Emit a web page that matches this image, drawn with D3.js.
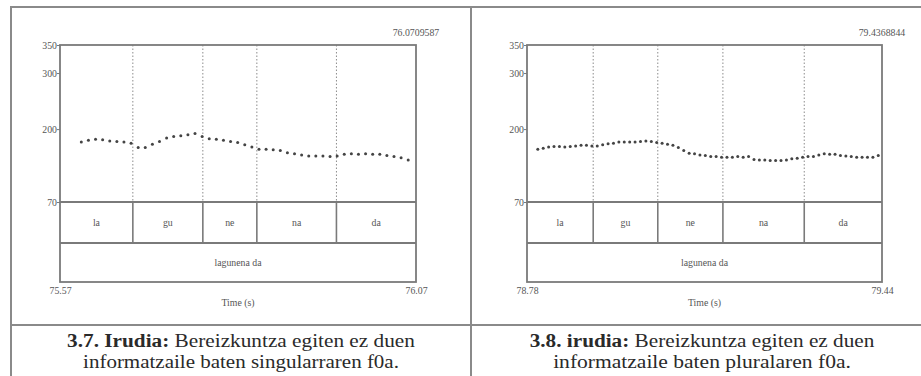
<!DOCTYPE html>
<html>
<head>
<meta charset="utf-8">
<script src="https://cdn.jsdelivr.net/npm/d3@7"></script>
<style>
  html, body { margin: 0; padding: 0; background: #fff; }
  svg { display: block; }
</style>
</head>
<body>
<svg id="chart" width="921" height="376"></svg>
<script>
// ---- data -------------------------------------------------------------
const f0Ticks = [70, 200, 300, 350];
const f0Range = [70, 350];

// Figure 3.7 — singular
const singTimeRange = [75.57, 76.0709587];
const singTimeLabels = ["75.57", "76.07"];
const singEndLabel = "76.0709587";
const singTimes = [75.60, 75.61, 75.62, 75.63, 75.64, 75.65, 75.66, 75.67, 75.68, 75.69,
                   75.70, 75.71, 75.72, 75.73, 75.74, 75.75, 75.76, 75.77, 75.78, 75.79,
                   75.80, 75.81, 75.82, 75.83, 75.84, 75.85, 75.86, 75.87, 75.88, 75.89,
                   75.90, 75.91, 75.92, 75.93, 75.94, 75.95, 75.96, 75.97, 75.98, 75.99,
                   76.00, 76.01, 76.02, 76.03, 76.04, 76.05, 76.06];
const singF0 = [177, 180, 182, 181, 179, 178, 177, 175, 167, 167,
                173, 178, 184, 187, 188, 190, 192, 187, 183, 182,
                180, 178, 176, 172, 168, 164, 164, 163, 162, 158,
                156, 154, 152, 152, 152, 151, 152, 155, 156, 155,
                156, 155, 155, 153, 151, 149, 145];
const singBounds = [75.6725, 75.771, 75.847, 75.959];
const singSyllables = ["la", "gu", "ne", "na", "da"];
const singPhrase = "lagunena da";

// Figure 3.8 — plural
const plurTimeRange = [78.78, 79.4368844];
const plurTimeLabels = ["78.78", "79.44"];
const plurEndLabel = "79.4368844";
const plurTimes = [78.80, 78.81, 78.82, 78.83, 78.84, 78.85, 78.86, 78.87, 78.88, 78.89,
                   78.90, 78.91, 78.92, 78.93, 78.94, 78.95, 78.96, 78.97, 78.98, 78.99,
                   79.00, 79.01, 79.02, 79.03, 79.04, 79.05, 79.06, 79.07, 79.08, 79.09,
                   79.10, 79.11, 79.12, 79.13, 79.14, 79.15, 79.16, 79.17, 79.18, 79.19,
                   79.20, 79.21, 79.22, 79.23, 79.24, 79.25, 79.26, 79.27, 79.28, 79.29,
                   79.30, 79.31, 79.32, 79.33, 79.34, 79.35, 79.36, 79.37, 79.38, 79.39,
                   79.40, 79.41, 79.42, 79.43];
const plurF0 = [164, 166, 168, 169, 169, 168, 169, 170, 171, 171,
                170, 170, 172, 174, 175, 177, 177, 177, 177, 178,
                179, 178, 176, 175, 173, 171, 167, 162, 157, 156,
                154, 153, 151, 151, 150, 150, 150, 151, 150, 151,
                146, 145, 145, 144, 144, 144, 145, 147, 148, 150,
                151, 151, 154, 156, 155, 155, 153, 152, 151, 150,
                150, 150, 150, 153];
const plurBounds = [78.9025, 79.022, 79.1425, 79.293];
const plurSyllables = ["la", "gu", "ne", "na", "da"];
const plurPhrase = "lagunena da";

const captionBold = ["3.7. Irudia:", "3.8. irudia:"];
const captionRest = ["Bereizkuntza egiten ez duen", "Bereizkuntza egiten ez duen"];
const captionLine2 = ["informatzaile baten singularraren f0a.", "informatzaile baten pluralaren f0a."];

// ---- drawing ----------------------------------------------------------
const svg = d3.select("#chart");
svg.append("rect").attr("width", 921).attr("height", 376).attr("fill", "#fff");

const frameColor = "#7a7a7a";
const serif = "'Liberation Serif', 'Times New Roman', Times, serif";
const smallColor = "#555";
const smallSize = 9.8;

// table lines around the two figures
const table = svg.append("g").attr("stroke", "#8a8a8a").attr("stroke-width", 2);
table.append("line").attr("x1", 10).attr("x2", 921).attr("y1", 7).attr("y2", 7);
table.append("line").attr("x1", 11).attr("x2", 11).attr("y1", 6).attr("y2", 376);
table.append("line").attr("x1", 471).attr("x2", 471).attr("y1", 6).attr("y2", 376);
table.append("line").attr("x1", 10).attr("x2", 921).attr("y1", 325).attr("y2", 325);

function smallText(sel) {
  return sel.attr("font-family", serif).attr("font-size", smallSize).attr("fill", smallColor);
}

function drawPanel(cfg) {
  const g = svg.append("g");
  const x = d3.scaleLinear().domain(cfg.timeRange).range([cfg.left, cfg.right]);
  const y = d3.scaleLinear().domain(f0Range).range([202, 45]);
  const tier1Bottom = 243, tier2Bottom = 282;

  // pitch axis with ticks to the left
  const yAxis = d3.axisLeft(y).tickValues(f0Ticks).tickSize(3).tickFormat(d3.format("d"));
  const ay = g.append("g").attr("transform", `translate(${cfg.left},0)`).call(yAxis);
  ay.select(".domain").remove();
  ay.selectAll(".tick line").attr("stroke", frameColor).attr("stroke-width", 1);
  smallText(ay.selectAll(".tick text").attr("x", -3));

  // time axis labels at the two ends
  const xAxis = d3.axisBottom(x).tickValues(cfg.timeRange).tickSize(0)
    .tickFormat((d, i) => cfg.timeLabels[i]);
  const ax = g.append("g").attr("transform", `translate(0,${tier2Bottom})`).call(xAxis);
  ax.select(".domain").remove();
  smallText(ax.selectAll(".tick text").attr("y", 5));

  smallText(g.append("text").attr("x", (cfg.left + cfg.right) / 2).attr("y", 306)
    .attr("text-anchor", "middle")).text("Time (s)");
  smallText(g.append("text").attr("x", cfg.right).attr("y", 36)
    .attr("text-anchor", "middle")).text(cfg.endLabel);

  // interval boundaries: dotted over the pitch area, solid in the syllable tier
  g.append("g").selectAll("line").data(cfg.bounds).join("line")
    .attr("x1", d => x(d)).attr("x2", d => x(d)).attr("y1", 45).attr("y2", 202)
    .attr("stroke", "#8c8c8c").attr("stroke-width", 1).attr("stroke-dasharray", "1.5,2");
  g.append("g").selectAll("line").data(cfg.bounds).join("line")
    .attr("x1", d => x(d)).attr("x2", d => x(d)).attr("y1", 202).attr("y2", tier1Bottom)
    .attr("stroke", frameColor).attr("stroke-width", 1.6);

  // frame and tier separators
  const fr = g.append("g").attr("stroke", frameColor).attr("stroke-width", 1.8).attr("fill", "none");
  fr.append("rect").attr("x", cfg.left).attr("y", 45)
    .attr("width", cfg.right - cfg.left).attr("height", tier2Bottom - 45);
  fr.append("line").attr("x1", cfg.left).attr("x2", cfg.right).attr("y1", 202).attr("y2", 202);
  fr.append("line").attr("x1", cfg.left).attr("x2", cfg.right).attr("y1", tier1Bottom).attr("y2", tier1Bottom);

  // syllable labels centred in their intervals
  const edges = [cfg.timeRange[0], ...cfg.bounds, cfg.timeRange[1]];
  smallText(g.append("g").selectAll("text").data(cfg.syllables).join("text")
    .attr("x", (d, i) => (x(edges[i]) + x(edges[i + 1])) / 2)
    .attr("y", (202 + tier1Bottom) / 2 + 3)
    .attr("text-anchor", "middle")).text(d => d);
  smallText(g.append("text").attr("x", (cfg.left + cfg.right) / 2)
    .attr("y", (tier1Bottom + tier2Bottom) / 2 + 3)
    .attr("text-anchor", "middle")).text(cfg.phrase);

  // f0 speckles
  const pts = cfg.times.map((t, i) => ({ t, f: cfg.f0[i] }));
  g.append("g").selectAll("circle").data(pts).join("circle")
    .attr("cx", d => x(d.t)).attr("cy", d => y(d.f)).attr("r", 1.5)
    .attr("fill", "#444");
}

drawPanel({ left: 60, right: 416, timeRange: singTimeRange, timeLabels: singTimeLabels,
            endLabel: singEndLabel, times: singTimes, f0: singF0, bounds: singBounds,
            syllables: singSyllables, phrase: singPhrase });
drawPanel({ left: 527, right: 882, timeRange: plurTimeRange, timeLabels: plurTimeLabels,
            endLabel: plurEndLabel, times: plurTimes, f0: plurF0, bounds: plurBounds,
            syllables: plurSyllables, phrase: plurPhrase });

// captions: each line is stretched horizontally to its set width
const capCenters = [241, 702];
const capWidths = [[348, 316], [345, 298]];
function fitWidth(textSel, cx, width) {
  const w = textSel.node().getComputedTextLength();
  textSel.attr("transform", `translate(${cx},0) scale(${width / w},1) translate(${-cx},0)`);
}
capCenters.forEach((cx, i) => {
  const t1 = svg.append("text").attr("x", cx).attr("y", 347).attr("text-anchor", "middle")
    .attr("font-family", serif).attr("font-size", 19).attr("fill", "#2a2a2a");
  t1.append("tspan").attr("font-weight", "bold").text(captionBold[i] + " ");
  t1.append("tspan").text(captionRest[i]);
  fitWidth(t1, cx, capWidths[i][0]);
  const t2 = svg.append("text").attr("x", cx).attr("y", 368).attr("text-anchor", "middle")
    .attr("font-family", serif).attr("font-size", 19).attr("fill", "#2a2a2a")
    .text(captionLine2[i]);
  fitWidth(t2, cx, capWidths[i][1]);
});
</script>
</body>
</html>
